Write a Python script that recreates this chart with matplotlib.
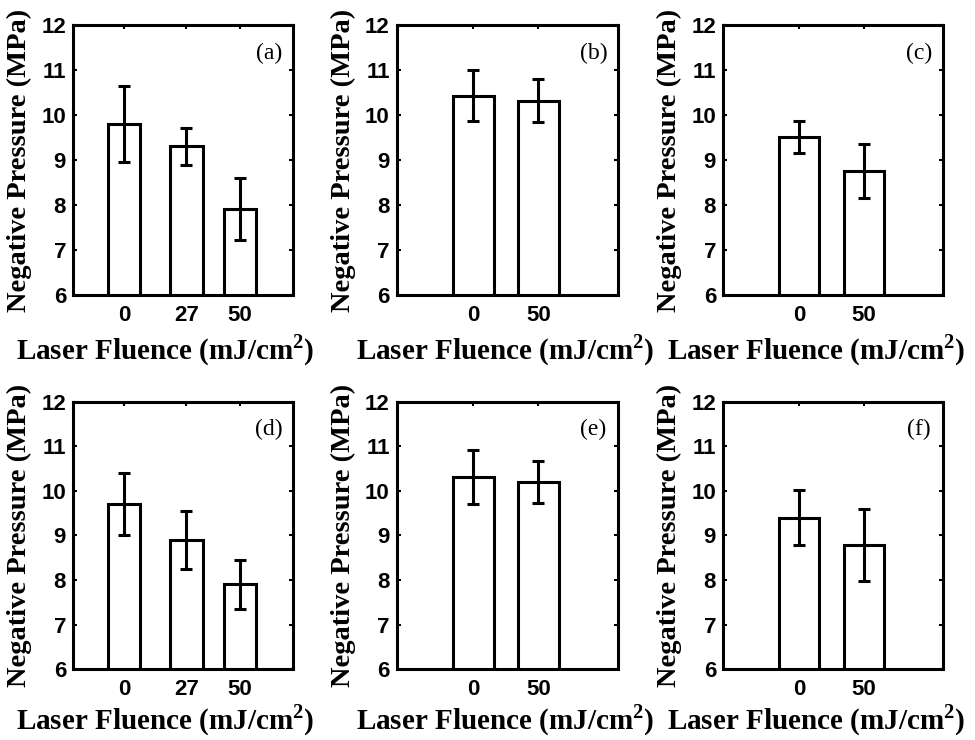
import numpy as np
import matplotlib
matplotlib.use("Agg")
from matplotlib import pyplot as plt

''' data read off the figure '''
fluence_3 = [0, 27, 50]
fluence_2 = [0, 50]
tick_labels_3 = ["0", "27", "50"]
tick_labels_2 = ["0", "50"]

mean_a = [9.80, 9.30, 7.91]
err_a = [0.85, 0.41, 0.69]
mean_b = [10.43, 10.32]
err_b = [0.57, 0.48]
mean_c = [9.51, 8.76]
err_c = [0.36, 0.60]
mean_d = [9.71, 8.90, 7.91]
err_d = [0.69, 0.65, 0.55]
mean_e = [10.31, 10.20]
err_e = [0.61, 0.47]
mean_f = [9.40, 8.79]
err_f = [0.61, 0.81]

panel_names = ["(a)", "(b)", "(c)", "(d)", "(e)", "(f)"]

plt.rcParams['font.family'] = ['Liberation Sans Narrow', 'Liberation Sans', 'DejaVu Sans']
plt.rcParams['font.weight'] = 'bold'
plt.rcParams['mathtext.fontset'] = 'custom'
plt.rcParams['mathtext.rm'] = 'Liberation Serif:bold'
plt.rcParams['mathtext.bf'] = 'Liberation Serif:bold'

fig = plt.figure(figsize=(9.75, 7.4), dpi=100)

# axes boxes in figure fraction: left, bottom, width, height
rows = [(0.6014, 0.3649), (0.0955, 0.3618)]
cols = [(0.0749, 0.2256), (0.4069, 0.2267), (0.7415, 0.2256)]
xlabel_y = [-0.137, -0.122]
xlabel_x = [0.42, 0.49, 0.425]

panels = [
    (fluence_3, tick_labels_3, mean_a, err_a, 14, (-22, 73)),
    (fluence_2, tick_labels_2, mean_b, err_b, 31, (-59, 111)),
    (fluence_2, tick_labels_2, mean_c, err_c, 31, (-59, 111)),
    (fluence_3, tick_labels_3, mean_d, err_d, 14, (-22, 73)),
    (fluence_2, tick_labels_2, mean_e, err_e, 31, (-59, 111)),
    (fluence_2, tick_labels_2, mean_f, err_f, 31, (-59, 111)),
]

for k, (xs, labels, means, errs, width, xlim) in enumerate(panels):
    r, c = divmod(k, 3)
    ax = fig.add_axes([cols[c][0], rows[r][0], cols[c][1], rows[r][1]])
    ax.bar(xs, means, width=width, bottom=0, color="white", edgecolor="black", linewidth=2.2, zorder=2)
    ax.errorbar(xs, means, yerr=errs, fmt="none", ecolor="black", elinewidth=2.2,
                capsize=4, capthick=2.2, zorder=3)
    ax.set_xlim(xlim)
    ax.set_ylim(6, 12)
    ax.set_xticks(xs)
    ax.set_xticklabels(labels)
    ax.set_yticks(np.arange(6, 13, 1))
    ax.tick_params(direction="in", length=3, width=1.5, top=True, right=True,
                   labelsize=16, pad=5)
    ax.tick_params(axis="x", pad=7)
    for sp in ax.spines.values():
        sp.set_linewidth(2.2)
    ax.set_ylabel("Negative Pressure (MPa)", family=["Liberation Serif"], fontweight="bold", fontsize=20.5)
    ax.yaxis.set_label_coords(-0.185, 0.5)
    ax.set_xlabel(r"Laser Fluence (mJ/cm$^\mathbf{2}$)", family=["Liberation Serif"], fontweight="bold", fontsize=21)
    ax.xaxis.set_label_coords(xlabel_x[c], xlabel_y[r])
    ax.text(0.89, 0.895, panel_names[k], transform=ax.transAxes, ha="center", va="center",
            family=["Liberation Serif"], fontweight="normal", fontsize=17)

plt.savefig("out.png", dpi=100)
plt.close()
